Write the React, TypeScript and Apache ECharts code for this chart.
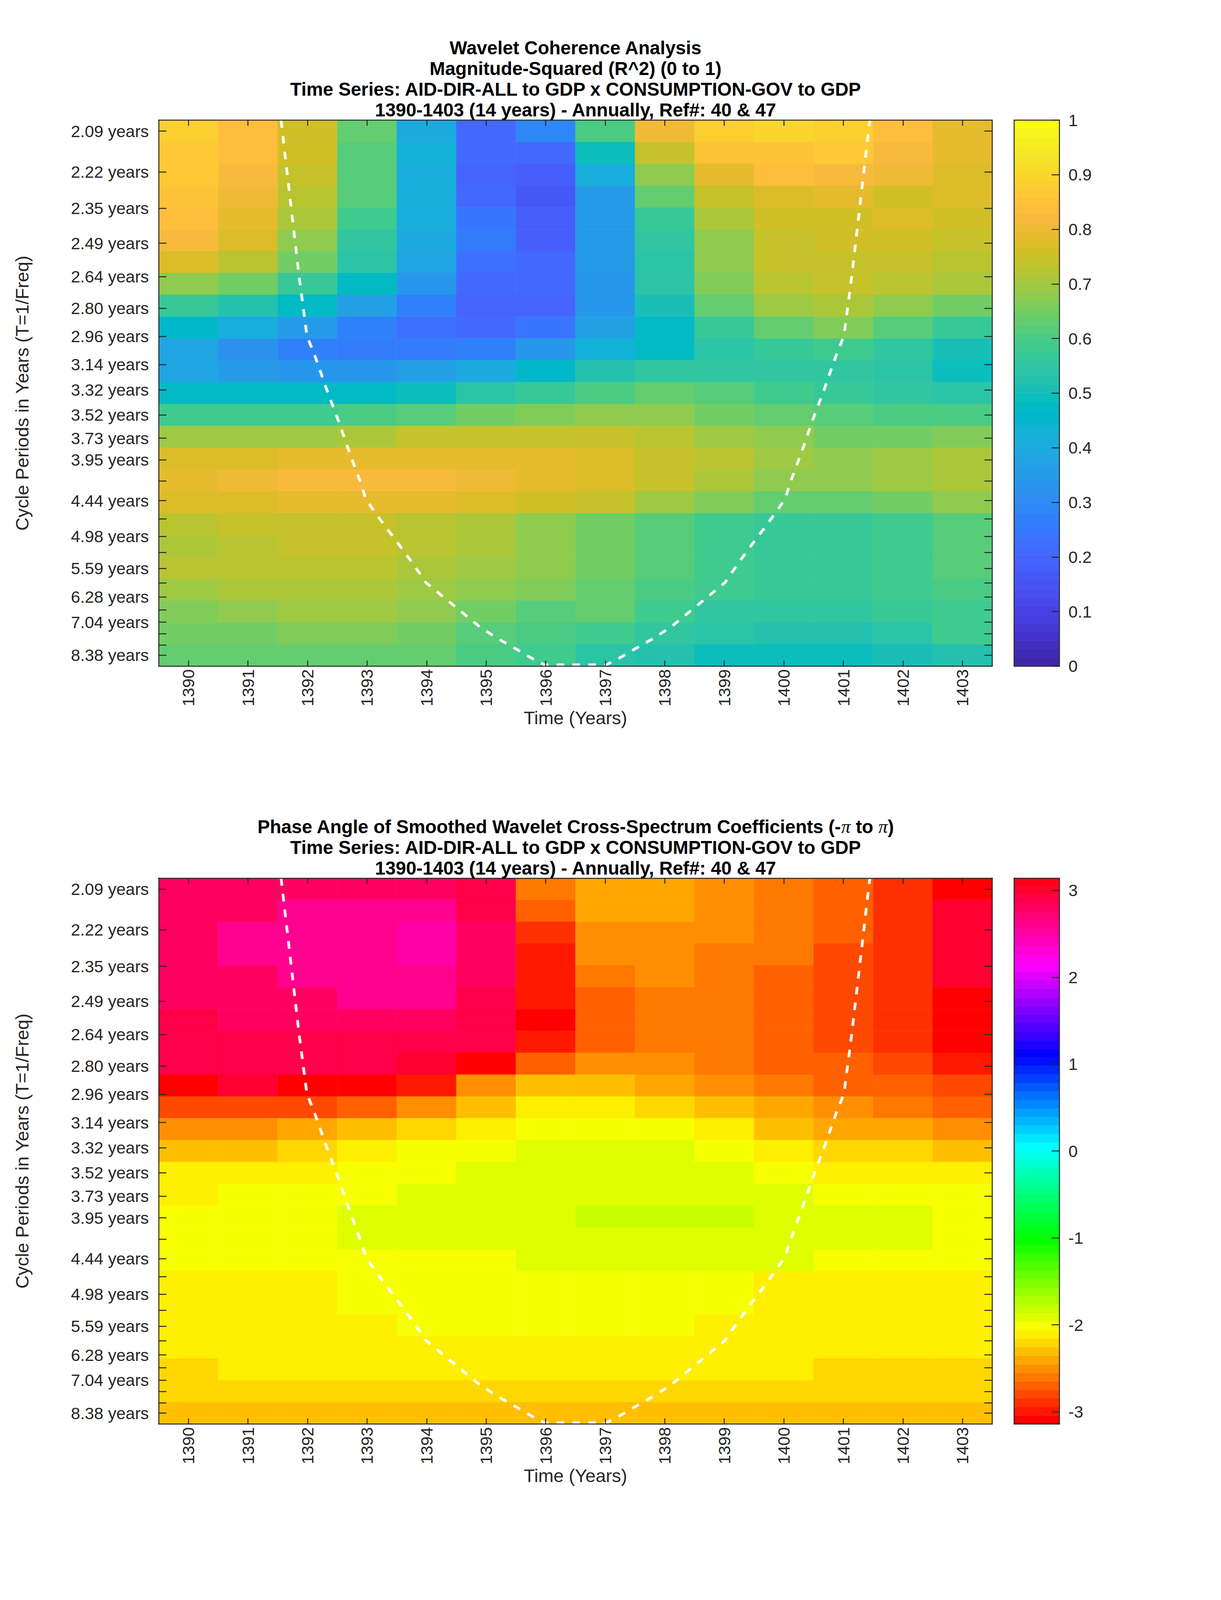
import React, { useEffect, useRef } from "react";
import * as echarts from "echarts";

const years = [1390, 1391, 1392, 1393, 1394, 1395, 1396, 1397, 1398, 1399, 1400, 1401, 1402, 1403];

const periodTicks = [2.09, 2.22, 2.35, 2.49, 2.64, 2.8, 2.96, 3.14, 3.32, 3.52, 3.73, 3.95, 4.19, 4.44, 4.7, 4.98, 5.27, 5.59, 5.92, 6.28, 6.65, 7.04, 7.46, 7.91, 8.38];
const periodLabels = ["2.09 years", "2.22 years", "2.35 years", "2.49 years", "2.64 years", "2.80 years", "2.96 years", "3.14 years", "3.32 years", "3.52 years", "3.73 years", "3.95 years", "", "4.44 years", "", "4.98 years", "", "5.59 years", "", "6.28 years", "", "7.04 years", "", "", "8.38 years"];

const coherenceValues = [
  [0.88, 0.83, 0.76, 0.63, 0.4, 0.21, 0.29, 0.6, 0.8, 0.88, 0.9, 0.88, 0.83, 0.79],
  [0.87, 0.83, 0.76, 0.62, 0.43, 0.21, 0.21, 0.49, 0.74, 0.85, 0.85, 0.87, 0.82, 0.79],
  [0.87, 0.82, 0.74, 0.62, 0.41, 0.2, 0.18, 0.41, 0.68, 0.79, 0.83, 0.82, 0.8, 0.77],
  [0.85, 0.8, 0.72, 0.62, 0.41, 0.21, 0.16, 0.35, 0.63, 0.74, 0.77, 0.79, 0.76, 0.77],
  [0.83, 0.79, 0.71, 0.59, 0.41, 0.24, 0.18, 0.35, 0.57, 0.71, 0.76, 0.76, 0.77, 0.76],
  [0.82, 0.77, 0.68, 0.55, 0.4, 0.26, 0.18, 0.35, 0.55, 0.68, 0.74, 0.76, 0.76, 0.74],
  [0.77, 0.72, 0.65, 0.54, 0.38, 0.23, 0.21, 0.35, 0.54, 0.68, 0.74, 0.74, 0.74, 0.72],
  [0.68, 0.65, 0.57, 0.48, 0.34, 0.21, 0.21, 0.34, 0.54, 0.66, 0.72, 0.74, 0.72, 0.71],
  [0.57, 0.52, 0.48, 0.37, 0.27, 0.2, 0.2, 0.34, 0.51, 0.63, 0.69, 0.71, 0.68, 0.65],
  [0.46, 0.41, 0.35, 0.27, 0.23, 0.21, 0.24, 0.37, 0.48, 0.57, 0.63, 0.66, 0.62, 0.57],
  [0.38, 0.32, 0.27, 0.26, 0.26, 0.27, 0.34, 0.43, 0.48, 0.54, 0.57, 0.59, 0.55, 0.51],
  [0.38, 0.35, 0.34, 0.34, 0.37, 0.4, 0.46, 0.52, 0.55, 0.55, 0.55, 0.55, 0.54, 0.49],
  [0.48, 0.48, 0.48, 0.48, 0.49, 0.54, 0.57, 0.6, 0.63, 0.62, 0.59, 0.57, 0.55, 0.54],
  [0.59, 0.59, 0.59, 0.6, 0.62, 0.65, 0.66, 0.68, 0.68, 0.65, 0.63, 0.62, 0.6, 0.6],
  [0.69, 0.69, 0.69, 0.71, 0.74, 0.74, 0.74, 0.74, 0.72, 0.69, 0.68, 0.65, 0.65, 0.66],
  [0.77, 0.77, 0.79, 0.79, 0.79, 0.79, 0.79, 0.77, 0.74, 0.72, 0.69, 0.68, 0.69, 0.71],
  [0.79, 0.8, 0.82, 0.82, 0.82, 0.8, 0.79, 0.77, 0.74, 0.71, 0.68, 0.68, 0.69, 0.71],
  [0.77, 0.77, 0.79, 0.79, 0.79, 0.77, 0.76, 0.74, 0.69, 0.66, 0.63, 0.63, 0.65, 0.68],
  [0.72, 0.74, 0.74, 0.74, 0.72, 0.71, 0.68, 0.65, 0.62, 0.59, 0.57, 0.57, 0.59, 0.62],
  [0.71, 0.72, 0.74, 0.74, 0.72, 0.71, 0.68, 0.65, 0.62, 0.59, 0.57, 0.57, 0.59, 0.62],
  [0.72, 0.72, 0.72, 0.72, 0.71, 0.69, 0.68, 0.65, 0.62, 0.59, 0.57, 0.57, 0.59, 0.62],
  [0.69, 0.71, 0.71, 0.71, 0.69, 0.68, 0.66, 0.63, 0.6, 0.59, 0.57, 0.57, 0.59, 0.6],
  [0.66, 0.68, 0.69, 0.69, 0.68, 0.65, 0.62, 0.63, 0.59, 0.55, 0.55, 0.55, 0.57, 0.59],
  [0.65, 0.65, 0.66, 0.66, 0.65, 0.62, 0.6, 0.59, 0.55, 0.54, 0.52, 0.52, 0.54, 0.59],
  [0.63, 0.63, 0.63, 0.63, 0.63, 0.6, 0.59, 0.54, 0.52, 0.49, 0.49, 0.49, 0.51, 0.52],
];

const phaseValues = [
  [2.75, 2.75, 2.75, 2.75, 2.75, 2.94, -2.6, -2.41, -2.41, -2.5, -2.6, -2.7, -2.9, -3.09],
  [2.75, 2.75, 2.65, 2.65, 2.65, 2.85, -2.7, -2.41, -2.41, -2.5, -2.6, -2.7, -2.9, 3.04],
  [2.75, 2.65, 2.65, 2.65, 2.55, 2.75, -2.9, -2.5, -2.5, -2.5, -2.6, -2.7, -2.9, 3.04],
  [2.75, 2.65, 2.65, 2.65, 2.55, 2.75, -2.99, -2.5, -2.5, -2.6, -2.6, -2.8, -2.9, 3.04],
  [2.75, 2.75, 2.65, 2.65, 2.65, 2.75, -2.99, -2.6, -2.5, -2.6, -2.7, -2.8, -2.9, 3.04],
  [2.75, 2.75, 2.75, 2.65, 2.65, 2.85, -2.99, -2.7, -2.6, -2.6, -2.7, -2.8, -2.9, -3.09],
  [2.85, 2.75, 2.75, 2.75, 2.75, 2.85, -3.09, -2.7, -2.6, -2.6, -2.7, -2.8, -2.9, -3.09],
  [2.85, 2.85, 2.85, 2.85, 2.85, 2.94, -2.99, -2.7, -2.6, -2.6, -2.7, -2.8, -2.9, -3.09],
  [2.94, 2.94, 2.94, 2.94, 3.04, -3.09, -2.7, -2.5, -2.5, -2.6, -2.7, -2.7, -2.8, -2.99],
  [-3.09, 3.04, -3.09, -3.09, -2.99, -2.5, -2.31, -2.31, -2.41, -2.5, -2.6, -2.7, -2.7, -2.8],
  [-2.8, -2.8, -2.8, -2.7, -2.5, -2.31, -2.11, -2.11, -2.21, -2.31, -2.41, -2.5, -2.6, -2.7],
  [-2.5, -2.5, -2.41, -2.31, -2.21, -2.11, -2.01, -2.01, -2.01, -2.11, -2.31, -2.41, -2.41, -2.5],
  [-2.31, -2.31, -2.21, -2.11, -2.01, -2.01, -1.91, -1.91, -1.91, -2.01, -2.11, -2.21, -2.21, -2.31],
  [-2.11, -2.11, -2.11, -2.01, -2.01, -1.91, -1.91, -1.91, -1.91, -1.91, -2.01, -2.11, -2.11, -2.11],
  [-2.11, -2.01, -2.01, -2.01, -1.91, -1.91, -1.91, -1.91, -1.91, -1.91, -1.91, -2.01, -2.01, -2.01],
  [-2.01, -2.01, -2.01, -1.91, -1.91, -1.91, -1.91, -1.82, -1.82, -1.82, -1.91, -1.91, -1.91, -2.01],
  [-2.01, -2.01, -2.01, -1.91, -1.91, -1.91, -1.91, -1.91, -1.91, -1.91, -1.91, -1.91, -1.91, -2.01],
  [-2.01, -2.01, -2.01, -2.01, -2.01, -2.01, -1.91, -1.91, -1.91, -1.91, -1.91, -2.01, -2.01, -2.01],
  [-2.11, -2.11, -2.11, -2.01, -2.01, -2.01, -2.01, -2.01, -2.01, -2.01, -2.11, -2.11, -2.11, -2.11],
  [-2.11, -2.11, -2.11, -2.01, -2.01, -2.01, -2.01, -2.01, -2.01, -2.01, -2.11, -2.11, -2.11, -2.11],
  [-2.11, -2.11, -2.11, -2.11, -2.01, -2.01, -2.01, -2.01, -2.01, -2.11, -2.11, -2.11, -2.11, -2.11],
  [-2.11, -2.11, -2.11, -2.11, -2.11, -2.11, -2.11, -2.11, -2.11, -2.11, -2.11, -2.11, -2.11, -2.11],
  [-2.21, -2.11, -2.11, -2.11, -2.11, -2.11, -2.11, -2.11, -2.11, -2.11, -2.11, -2.21, -2.21, -2.21],
  [-2.21, -2.21, -2.21, -2.21, -2.21, -2.21, -2.21, -2.21, -2.21, -2.21, -2.21, -2.21, -2.21, -2.21],
  [-2.31, -2.31, -2.31, -2.31, -2.31, -2.31, -2.31, -2.31, -2.31, -2.31, -2.31, -2.31, -2.31, -2.31],
];

const coiYears = [1391.556, 1391.858, 1391.99, 1392.125, 1392.313, 1392.514, 1392.7, 1392.896, 1392.98, 1393.163, 1393.344, 1393.53, 1393.71, 1393.886, 1393.987, 1394.348, 1394.616, 1394.884, 1395.172, 1395.494, 1395.806, 1395.98, 1397.02, 1397.194, 1397.506, 1397.828, 1398.116, 1398.384, 1398.652, 1399.013, 1399.114, 1399.29, 1399.47, 1399.656, 1399.837, 1400.02, 1400.104, 1400.3, 1400.486, 1400.687, 1400.875, 1401.01, 1401.142, 1401.444];
const coiRows = [0, 7.12, 9.87, 10.8, 12.26, 13.72, 15.18, 16.63, 17.35, 18.07, 18.74, 19.41, 20.08, 20.76, 21.17, 21.98, 22.58, 23.18, 23.7, 24.2, 24.7, 24.94, 24.94, 24.7, 24.2, 23.7, 23.18, 22.58, 21.98, 21.17, 20.76, 20.08, 19.41, 18.74, 18.07, 17.35, 16.63, 15.18, 13.72, 12.26, 10.8, 9.87, 7.12, 0];

const parula = [
  [0.2422, 0.1504, 0.6603], [0.2504, 0.165, 0.7076], [0.2578, 0.1818, 0.7511], [0.2647, 0.1978, 0.7952],
  [0.2706, 0.2147, 0.8364], [0.2751, 0.2342, 0.871], [0.2783, 0.2559, 0.8991], [0.2803, 0.2782, 0.9221],
  [0.2813, 0.3006, 0.9414], [0.281, 0.3228, 0.9579], [0.2795, 0.3447, 0.9717], [0.276, 0.3667, 0.9829],
  [0.2699, 0.3892, 0.9906], [0.2602, 0.4123, 0.9952], [0.244, 0.4358, 0.9988], [0.2206, 0.4603, 0.9973],
  [0.1963, 0.4847, 0.9892], [0.1834, 0.5074, 0.9798], [0.1786, 0.5289, 0.9682], [0.1764, 0.5499, 0.952],
  [0.1687, 0.5703, 0.9359], [0.154, 0.5902, 0.9218], [0.146, 0.6091, 0.9079], [0.138, 0.6276, 0.8973],
  [0.1248, 0.6459, 0.8883], [0.1113, 0.6635, 0.8763], [0.0952, 0.6798, 0.8598], [0.0689, 0.6948, 0.8394],
  [0.0297, 0.7082, 0.8163], [0.0036, 0.7203, 0.7917], [0.0067, 0.7312, 0.766], [0.0433, 0.7411, 0.7394],
  [0.0964, 0.75, 0.712], [0.1408, 0.7584, 0.6842], [0.1717, 0.767, 0.6554], [0.1938, 0.7758, 0.6251],
  [0.2161, 0.7843, 0.5923], [0.247, 0.7918, 0.5567], [0.2906, 0.7973, 0.5188], [0.3406, 0.8008, 0.4789],
  [0.3909, 0.8029, 0.4354], [0.4456, 0.8024, 0.3909], [0.5044, 0.7993, 0.348], [0.5616, 0.7942, 0.3045],
  [0.6174, 0.7876, 0.2612], [0.672, 0.7793, 0.2227], [0.7242, 0.7698, 0.191], [0.7738, 0.7598, 0.1646],
  [0.8203, 0.7498, 0.1535], [0.8634, 0.7406, 0.1596], [0.9035, 0.733, 0.1774], [0.9393, 0.7288, 0.21],
  [0.9728, 0.7298, 0.2394], [0.9956, 0.7434, 0.2371], [0.997, 0.7659, 0.2199], [0.9952, 0.7893, 0.2028],
  [0.9892, 0.8136, 0.1885], [0.9786, 0.8386, 0.1766], [0.9676, 0.8639, 0.1643], [0.961, 0.889, 0.1537],
  [0.9597, 0.9135, 0.1423], [0.9628, 0.9373, 0.1265], [0.9691, 0.9606, 0.1064], [0.9769, 0.9839, 0.0805],
];

const LEVELS = 64;
const toCss = (c: number[]) => `rgb(${c.map((v) => Math.round(v * 255)).join(",")})`;
const parulaColors = parula.map(toCss);
const hsvColors = Array.from({ length: LEVELS }, (_, i) => {
  const h = (i / LEVELS) * 6;
  const k = Math.floor(h);
  const f = h - k;
  const seg = [
    [1, f, 0],
    [1 - f, 1, 0],
    [0, 1, f],
    [0, 1 - f, 1],
    [f, 0, 1],
    [1, 0, 1 - f],
  ][k];
  return toCss(seg);
});

// The reference figure is 6252 tall. The browser window actually measures less (4096),
// and only the window is photographed, so vertical positions follow the window height;
// at a full 6252 window, vy() and fs() are the identity and the layout is the reference's.
const FULL_HEIGHT = 6252;
const PAGE_HEIGHT = Math.min(window.innerHeight || FULL_HEIGHT, FULL_HEIGHT);
const squeeze = PAGE_HEIGHT / FULL_HEIGHT;
const vy = (y: number) => y * squeeze;
const fs = (size: number) => size * Math.pow(squeeze, 0.7);

const FONT = "'Liberation Sans', Arial, sans-serif";
const INK = "#262626";
const TICK_SIZE = fs(57.5);
const NAME_SIZE = fs(63);
const TITLE_SIZE = fs(64);
const TITLE_LINE = vy(81);

const PLOT_LEFT = 406;
const PLOT_WIDTH = 2133.5;
const PLOT_HEIGHT = vy(2133.5);
const BAR_LEFT = 2595.5;
const BAR_WIDTH = 116;
const TOP_A = vy(469.5);
const TOP_B = vy(3431);
const TITLE_CENTER = 1473;

const rowOfPeriod = (t: number) =>
  0.5 + (24 * (1 / periodTicks[0] - 1 / t)) / (1 / periodTicks[0] - 1 / periodTicks[periodTicks.length - 1]);
const tickRows = periodTicks.map(rowOfPeriod);
const labelledRows = tickRows.filter((_, i) => periodLabels[i] !== "");
const labelOfRow = (v: number) => {
  let best = 0;
  tickRows.forEach((r, i) => {
    if (Math.abs(r - v) < Math.abs(tickRows[best] - v)) best = i;
  });
  return periodLabels[best];
};

const line = { color: INK, width: 2.5 };
const tickStyle = { color: INK, width: 2.5 };
const labelBase = { color: INK, fontFamily: FONT, fontSize: TICK_SIZE };

function heatXAxis(gridIndex: number, position: string, labelled: boolean) {
  return {
    type: "value",
    gridIndex,
    position,
    min: 1389.5,
    max: 1403.5,
    z: 5,
    splitLine: { show: false },
    axisLine: { show: true, onZero: false, lineStyle: line },
    axisTick: { show: true, inside: true, length: vy(22), customValues: years, lineStyle: tickStyle },
    axisLabel: {
      show: labelled,
      customValues: years,
      rotate: 90,
      margin: squeeze < 1 ? vy(12) : 27,
      formatter: (v: number) => String(v),
      ...labelBase,
    },
    ...(labelled
      ? {
          name: "Time (Years)",
          nameLocation: "middle",
          nameGap: vy(166),
          nameMoveOverlap: false,
          nameTextStyle: { color: INK, fontFamily: FONT, fontSize: NAME_SIZE },
        }
      : {}),
  };
}

function heatYAxis(gridIndex: number, position: string, labelled: boolean) {
  return {
    type: "value",
    gridIndex,
    position,
    inverse: true,
    min: 0,
    max: 25,
    z: 5,
    splitLine: { show: false },
    axisLine: { show: true, onZero: false, lineStyle: line },
    axisTick: { show: true, inside: true, length: 20, customValues: tickRows, lineStyle: tickStyle },
    axisLabel: {
      show: labelled,
      customValues: labelledRows,
      margin: 25,
      formatter: (v: number) => labelOfRow(v),
      ...labelBase,
    },
    ...(labelled
      ? {
          name: "Cycle Periods in Years (T=1/Freq)",
          nameLocation: "middle",
          nameGap: 326,
          nameMoveOverlap: false,
          nameTextStyle: { color: INK, fontFamily: FONT, fontSize: NAME_SIZE },
        }
      : {}),
  };
}

function barXAxis(gridIndex: number, position: string) {
  return {
    type: "value",
    gridIndex,
    position,
    min: 0,
    max: 1,
    z: 5,
    splitLine: { show: false },
    axisLine: { show: true, onZero: false, lineStyle: line },
    axisTick: { show: false },
    axisLabel: { show: false },
  };
}

function barYAxis(gridIndex: number, position: string, min: number, max: number, ticks: number[], labelled: boolean) {
  return {
    type: "value",
    gridIndex,
    position,
    min,
    max,
    z: 5,
    splitLine: { show: false },
    axisLine: { show: true, onZero: false, lineStyle: line },
    axisTick: { show: labelled, inside: true, length: 20, customValues: ticks, lineStyle: tickStyle },
    axisLabel: {
      show: labelled,
      customValues: ticks,
      margin: 23,
      formatter: (v: number) => String(Math.round(v * 10) / 10),
      ...labelBase,
    },
  };
}

function cellSeries(axisIndex: number, values: number[][], colorOf: (v: number) => string) {
  const data: number[][] = [];
  values.forEach((row, r) => row.forEach((v, c) => data.push([years[c], r, v])));
  return {
    type: "custom",
    xAxisIndex: axisIndex,
    yAxisIndex: axisIndex,
    z: 2,
    silent: true,
    encode: { x: 0, y: 1 },
    clip: true,
    data,
    renderItem: (_: any, api: any) => {
      const a = api.coord([api.value(0) - 0.5, api.value(1)]);
      const b = api.coord([api.value(0) + 0.5, api.value(1) + 1]);
      const fill = colorOf(api.value(2));
      return {
        type: "rect",
        shape: { x: a[0], y: a[1], width: b[0] - a[0], height: b[1] - a[1] },
        style: { fill, stroke: fill, lineWidth: 0.6 },
      };
    },
  };
}

function coiSeries(axisIndex: number) {
  return {
    type: "line",
    xAxisIndex: axisIndex,
    yAxisIndex: axisIndex,
    z: 3,
    silent: true,
    showSymbol: false,
    symbol: "none",
    clip: true,
    lineStyle: { color: "#ffffff", width: 7, type: [vy(30), vy(32)] },
    data: coiYears.map((y, i) => [y, coiRows[i]]),
  };
}

function barSeries(axisIndex: number, min: number, max: number, colors: string[]) {
  return {
    type: "custom",
    xAxisIndex: axisIndex,
    yAxisIndex: axisIndex,
    z: 2,
    silent: true,
    encode: { y: 0 },
    clip: true,
    data: colors.map((_, i) => [min + ((max - min) * i) / colors.length, min + ((max - min) * (i + 1)) / colors.length, i]),
    renderItem: (_: any, api: any) => {
      const a = api.coord([0, api.value(1)]);
      const b = api.coord([1, api.value(0)]);
      const fill = colors[api.value(2)];
      return {
        type: "rect",
        shape: { x: a[0], y: a[1], width: b[0] - a[0], height: b[1] - a[1] },
        style: { fill, stroke: fill, lineWidth: 0.6 },
      };
    },
  };
}

const coherenceColor = (v: number) => parulaColors[Math.min(LEVELS - 1, Math.floor(v * LEVELS))];
const phaseColor = (v: number) =>
  hsvColors[Math.min(LEVELS - 1, Math.floor(((v + Math.PI) / (2 * Math.PI)) * LEVELS))];

const titleBold = { fontFamily: FONT, fontWeight: "bold" as const, fontSize: TITLE_SIZE, color: "#000", lineHeight: TITLE_LINE };
const titleA = "Wavelet Coherence Analysis\nMagnitude-Squared (R^2) (0 to 1)\nTime Series: AID-DIR-ALL to GDP x CONSUMPTION-GOV to GDP\n1390-1403 (14 years) - Annually, Ref#: 40 & 47";
const titleB = "{b|Phase Angle of Smoothed Wavelet Cross-Spectrum Coefficients (-}{p|π}{b| to }{p|π}{b|)}\n{b|Time Series: AID-DIR-ALL to GDP x CONSUMPTION-GOV to GDP}\n{b|1390-1403 (14 years) - Annually, Ref#: 40 & 47}";

export default function App() {
  const ref = useRef<HTMLDivElement>(null);
  useEffect(() => {
    document.body.style.margin = "0";
    const chart = echarts.init(ref.current!, undefined, { renderer: "svg" });
    const unit = [0, 0.1, 0.2, 0.3, 0.4, 0.5, 0.6, 0.7, 0.8, 0.9, 1];
    const phase = [-3, -2, -1, 0, 1, 2, 3];
    chart.setOption({
      animation: false,
      backgroundColor: "#ffffff",
      title: [
        { text: titleA, left: TITLE_CENTER, top: vy(146.5), textAlign: "center", textStyle: titleBold, padding: 0 },
        {
          text: titleB,
          left: TITLE_CENTER,
          top: vy(3189.5),
          textAlign: "center",
          padding: 0,
          textStyle: {
            ...titleBold,
            rich: {
              b: titleBold,
              p: { fontFamily: "'Liberation Serif', serif", fontStyle: "italic", fontWeight: "normal", fontSize: TITLE_SIZE, color: "#000", lineHeight: TITLE_LINE },
            },
          },
        },
      ],
      grid: [
        { left: PLOT_LEFT, top: TOP_A, width: PLOT_WIDTH, height: PLOT_HEIGHT },
        { left: BAR_LEFT, top: TOP_A, width: BAR_WIDTH, height: PLOT_HEIGHT },
        { left: PLOT_LEFT, top: TOP_B, width: PLOT_WIDTH, height: PLOT_HEIGHT },
        { left: BAR_LEFT, top: TOP_B, width: BAR_WIDTH, height: PLOT_HEIGHT },
      ],
      xAxis: [
        heatXAxis(0, "bottom", true),
        barXAxis(1, "bottom"),
        heatXAxis(2, "bottom", true),
        barXAxis(3, "bottom"),
        heatXAxis(0, "top", false),
        barXAxis(1, "top"),
        heatXAxis(2, "top", false),
        barXAxis(3, "top"),
      ],
      yAxis: [
        heatYAxis(0, "left", true),
        barYAxis(1, "right", 0, 1, unit, true),
        heatYAxis(2, "left", true),
        barYAxis(3, "right", -Math.PI, Math.PI, phase, true),
        heatYAxis(0, "right", false),
        barYAxis(1, "left", 0, 1, unit, false),
        heatYAxis(2, "right", false),
        barYAxis(3, "left", -Math.PI, Math.PI, phase, false),
      ],
      series: [
        cellSeries(0, coherenceValues, coherenceColor),
        coiSeries(0),
        barSeries(1, 0, 1, parulaColors),
        cellSeries(2, phaseValues, phaseColor),
        coiSeries(2),
        barSeries(3, -Math.PI, Math.PI, hsvColors),
      ],
    });
    return () => chart.dispose();
  }, []);
  return <div ref={ref} style={{ width: 3125, height: PAGE_HEIGHT }} />;
}
